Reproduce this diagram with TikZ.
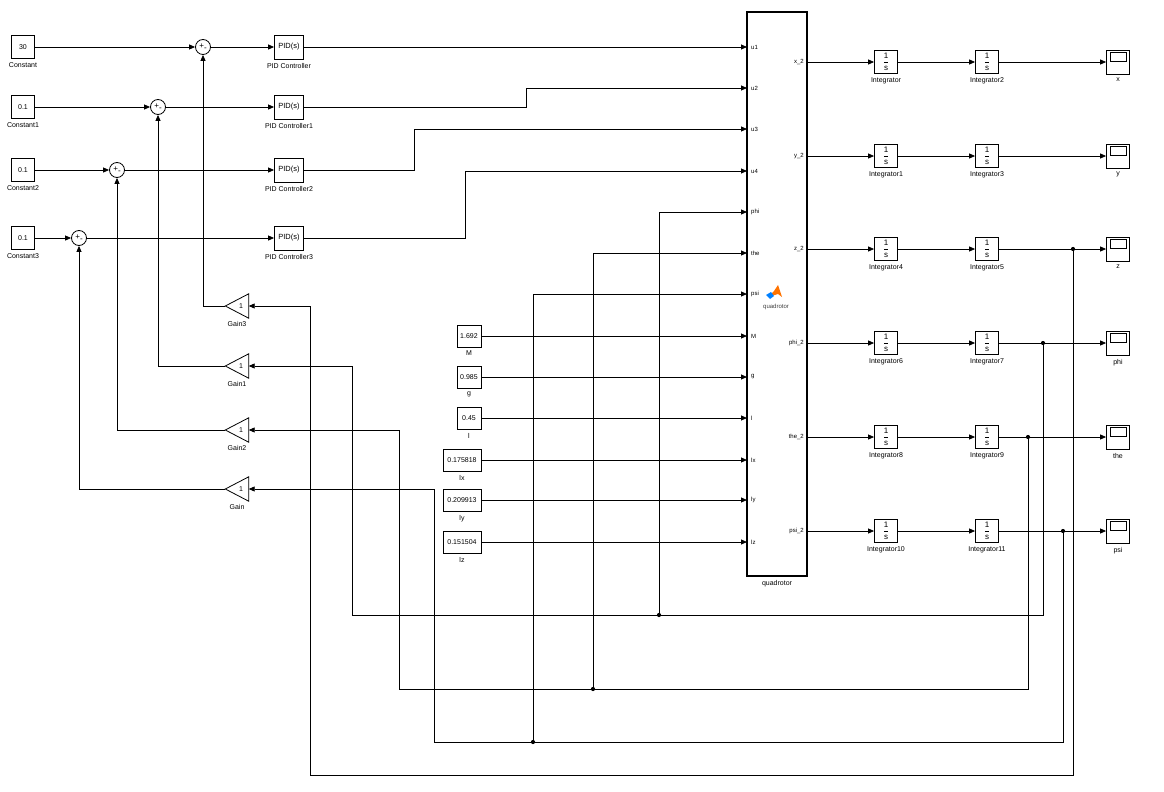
\documentclass[tikz,border=0pt]{standalone}
\usepackage{amsmath}
\usepackage{fontspec}
\setmainfont{Liberation Sans}
\usetikzlibrary{arrows.meta}

\begin{document}
\begin{tikzpicture}[x=1pt, y=-1pt, font=\fontsize{7}{8}\selectfont,
  every label/.style={font=\fontsize{7}{8}\selectfont, inner sep=1pt},
  label distance=2.5pt,
  blk/.style={draw, line width=0.8pt, fill=white, minimum width=23pt, minimum height=23pt, inner sep=0pt},
  pidbox/.style={blk, minimum width=29pt, minimum height=24pt, font=\fontsize{7.5}{8}\selectfont},
  parbox/.style={blk, minimum width=24pt, minimum height=22pt},
  widebox/.style={parbox, minimum width=38pt},
  sumnode/.style={draw, circle, line width=0.8pt, fill=white, minimum size=15pt, inner sep=0pt, font=\fontsize{8}{8}\selectfont},
  gainbox/.style={minimum width=23pt, minimum height=24pt, inner sep=0pt},
  intbox/.style={blk, font=\fontsize{8}{8}\selectfont},
  scopebox/.style={blk, minimum height=24pt, path picture={\draw[line width=0.8pt] ([shift={(4pt,-2.5pt)}]path picture bounding box.north west) rectangle ([shift={(-3pt,-11pt)}]path picture bounding box.north east);}},
  port/.style={font=\fontsize{6}{6}\selectfont, inner sep=1pt},
  sig/.style={line width=0.8pt, -{Triangle[length=6pt,width=5pt]}},
  wire/.style={line width=0.8pt},
  tap/.style={circle, fill, inner sep=0pt, minimum size=4.2pt}
]
\useasboundingbox (0,0) rectangle (1164,792);

% Reference constants
\node[blk, label=below:Constant] (c0) at (23,47) {30};
\node[blk, label=below:Constant1] (c1) at (23,107) {0.1};
\node[blk, label=below:Constant2] (c2) at (23,170) {0.1};
\node[blk, label=below:Constant3] (c3) at (23,238) {0.1};

% Sums
\node[sumnode] (s0) at (203,47) {+\raisebox{-2pt}{-}};
\node[sumnode] (s1) at (158,107) {+\raisebox{-2pt}{-}};
\node[sumnode] (s2) at (117,170) {+\raisebox{-2pt}{-}};
\node[sumnode] (s3) at (79,238) {+\raisebox{-2pt}{-}};

% PID controllers
\node[pidbox, label=below:PID Controller] (p0) at (289,47) {PID(s)};
\node[pidbox, label=below:PID Controller1] (p1) at (289,107) {PID(s)};
\node[pidbox, label=below:PID Controller2] (p2) at (289,170) {PID(s)};
\node[pidbox, label=below:PID Controller3] (p3) at (289,238) {PID(s)};

% Gains
\node[gainbox, label=below:Gain3] (g3) at (237,306) {\hspace{8pt}1};
\node[gainbox, label=below:Gain1] (g1) at (237,366) {\hspace{8pt}1};
\node[gainbox, label=below:Gain2] (g2) at (237,430) {\hspace{8pt}1};
\node[gainbox, label=below:Gain] (g0) at (237,489) {\hspace{8pt}1};
\draw[wire] (g3.west) -- (g3.north east) -- (g3.south east) -- cycle;
\draw[wire] (g1.west) -- (g1.north east) -- (g1.south east) -- cycle;
\draw[wire] (g2.west) -- (g2.north east) -- (g2.south east) -- cycle;
\draw[wire] (g0.west) -- (g0.north east) -- (g0.south east) -- cycle;

% Parameters
\node[parbox, label=below:M] (pm) at (469,336) {1.692};
\node[parbox, label=below:g] (pg) at (469,377) {0.985};
\node[parbox, label=below:l] (pl) at (469,418) {0.45};
\node[widebox, label=below:lx] (plx) at (462,460) {0.175818};
\node[widebox, label=below:ly] (ply) at (462,500) {0.209913};
\node[widebox, label=below:lz] (plz) at (462,542) {0.151504};

% Quadrotor block
\node[draw, line width=1.6pt, fill=white, minimum width=60pt, minimum height=564pt, inner sep=0pt, label=below:quadrotor] (quad) at (777,294) {};
\fill[orange!90!red] (768,297) -- (774,291) -- (778,285) -- (782,297) -- (778,294) -- cycle;
\fill[blue!50!cyan] (766,295) -- (771,292) -- (774,296) -- (770,299) -- cycle;
\node[port, text=black!75] (qname) at (776,307) {quadrotor};

\coordinate (u1) at (747,47);
\coordinate (u2) at (747,88);
\coordinate (u3) at (747,129);
\coordinate (u4) at (747,171);
\coordinate (uphi) at (747,212);
\coordinate (uthe) at (747,253);
\coordinate (upsi) at (747,294);
\coordinate (uM) at (747,336);
\coordinate (ug) at (747,377);
\coordinate (ul) at (747,418);
\coordinate (ulx) at (747,460);
\coordinate (uly) at (747,500);
\coordinate (ulz) at (747,542);
\node[port, anchor=west] (lu1) at (750,47) {u1};
\node[port, anchor=west] (lu2) at (750,88) {u2};
\node[port, anchor=west] (lu3) at (750,129) {u3};
\node[port, anchor=west] (lu4) at (750,171) {u4};
\node[port, anchor=west] (lphi) at (750,212) {phi};
\node[port, anchor=west] (lthe) at (750,253) {the};
\node[port, anchor=west] (lpsi) at (750,294) {psi};
\node[port, anchor=west] (lM) at (750,336) {M};
\node[port, anchor=west] (lg) at (750,377) {g};
\node[port, anchor=west] (ll) at (750,418) {l};
\node[port, anchor=west] (llx) at (750,460) {lx};
\node[port, anchor=west] (lly) at (750,500) {ly};
\node[port, anchor=west] (llz) at (750,542) {lz};

\coordinate (ox) at (807,62);
\coordinate (oy) at (807,156);
\coordinate (oz) at (807,249);
\coordinate (ophi) at (807,343);
\coordinate (othe) at (807,437);
\coordinate (opsi) at (807,531);
\node[port, anchor=east] (lx2) at (805,62) {x\_2};
\node[port, anchor=east] (ly2) at (805,156) {y\_2};
\node[port, anchor=east] (lz2) at (805,249) {z\_2};
\node[port, anchor=east] (lphi2) at (805,343) {phi\_2};
\node[port, anchor=east] (lthe2) at (805,437) {the\_2};
\node[port, anchor=east] (lpsi2) at (805,531) {psi\_2};

% Integrators
\node[intbox, label=below:Integrator] (i0) at (886,62) {$\dfrac{\text{1}}{\text{s}}$};
\node[intbox, label=below:Integrator2] (i2) at (987,62) {$\dfrac{\text{1}}{\text{s}}$};
\node[intbox, label=below:Integrator1] (i1) at (886,156) {$\dfrac{\text{1}}{\text{s}}$};
\node[intbox, label=below:Integrator3] (i3) at (987,156) {$\dfrac{\text{1}}{\text{s}}$};
\node[intbox, label=below:Integrator4] (i4) at (886,249) {$\dfrac{\text{1}}{\text{s}}$};
\node[intbox, label=below:Integrator5] (i5) at (987,249) {$\dfrac{\text{1}}{\text{s}}$};
\node[intbox, label=below:Integrator6] (i6) at (886,343) {$\dfrac{\text{1}}{\text{s}}$};
\node[intbox, label=below:Integrator7] (i7) at (987,343) {$\dfrac{\text{1}}{\text{s}}$};
\node[intbox, label=below:Integrator8] (i8) at (886,437) {$\dfrac{\text{1}}{\text{s}}$};
\node[intbox, label=below:Integrator9] (i9) at (987,437) {$\dfrac{\text{1}}{\text{s}}$};
\node[intbox, label=below:Integrator10] (i10) at (886,531) {$\dfrac{\text{1}}{\text{s}}$};
\node[intbox, label=below:Integrator11] (i11) at (987,531) {$\dfrac{\text{1}}{\text{s}}$};

% Scopes
\node[scopebox, label=below:x] (sx) at (1118,62) {};
\node[scopebox, label=below:y] (sy) at (1118,156) {};
\node[scopebox, label=below:z] (sz) at (1118,249) {};
\node[scopebox, label=below:phi] (sphi) at (1118,343) {};
\node[scopebox, label=below:the] (sthe) at (1118,437) {};
\node[scopebox, label=below:psi] (spsi) at (1118,531) {};

% Branch points
\node[tap] (bz) at (1073,249) {};
\node[tap] (bphi) at (1043,343) {};
\node[tap] (bthe) at (1028,437) {};
\node[tap] (bpsi) at (1063,531) {};
\node[tap] (dphi) at (659,615) {};
\node[tap] (dthe) at (593,689) {};
\node[tap] (dpsi) at (533,742) {};

% Forward path
\draw[sig] (c0) -- (s0);
\draw[sig] (c1) -- (s1);
\draw[sig] (c2) -- (s2);
\draw[sig] (c3) -- (s3);
\draw[sig] (s0) -- (p0);
\draw[sig] (s1) -- (p1);
\draw[sig] (s2) -- (p2);
\draw[sig] (s3) -- (p3);
\draw[sig] (p0) -- (u1);
\draw[sig] (p1.east) -- ++(222,0) |- (u2);
\draw[sig] (p2.east) -- ++(110,0) |- (u3);
\draw[sig] (p3.east) -- ++(161,0) |- (u4);
\draw[sig] (pm) -- (uM);
\draw[sig] (pg) -- (ug);
\draw[sig] (pl) -- (ul);
\draw[sig] (plx) -- (ulx);
\draw[sig] (ply) -- (uly);
\draw[sig] (plz) -- (ulz);

% Outputs
\draw[sig] (ox) -- (i0);
\draw[sig] (i0) -- (i2);
\draw[sig] (i2) -- (sx);
\draw[sig] (oy) -- (i1);
\draw[sig] (i1) -- (i3);
\draw[sig] (i3) -- (sy);
\draw[sig] (oz) -- (i4);
\draw[sig] (i4) -- (i5);
\draw[sig] (i5) -- (sz);
\draw[sig] (ophi) -- (i6);
\draw[sig] (i6) -- (i7);
\draw[sig] (i7) -- (sphi);
\draw[sig] (othe) -- (i8);
\draw[sig] (i8) -- (i9);
\draw[sig] (i9) -- (sthe);
\draw[sig] (opsi) -- (i10);
\draw[sig] (i10) -- (i11);
\draw[sig] (i11) -- (spsi);

% Feedback
\draw[sig] (bz) |- (310,775) |- (g3.east);
\draw[sig] (bphi) |- (352,615) |- (g1.east);
\draw[sig] (bthe) |- (399,689) |- (g2.east);
\draw[sig] (bpsi) |- (434,742) |- (g0.east);
\draw[sig] (dphi) |- (uphi);
\draw[sig] (dthe) |- (uthe);
\draw[sig] (dpsi) |- (upsi);
\draw[sig] (g3.west) -| (s0.south);
\draw[sig] (g1.west) -| (s1.south);
\draw[sig] (g2.west) -| (s2.south);
\draw[sig] (g0.west) -| (s3.south);

\end{tikzpicture}
\end{document}
